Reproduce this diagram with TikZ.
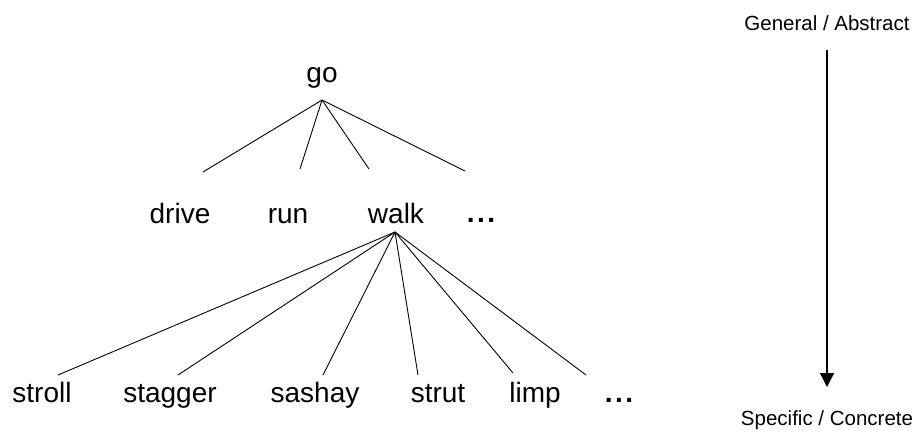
\documentclass[tikz,border=0pt]{standalone}
\usepackage{fontspec}
\setmainfont{Liberation Sans}
\usetikzlibrary{arrows.meta}
\newcommand{\spaceddots}{.\hspace{2.4pt}.\hspace{2.4pt}.}
\begin{document}
\begin{tikzpicture}[x=1pt,y=-1pt,
  word/.style={anchor=base, inner sep=0pt, font=\fontsize{28}{32}\selectfont},
  axislabel/.style={anchor=base, inner sep=0pt, font=\fontsize{20.5}{24}\selectfont},
  branch/.style={line width=0.9pt},
  axisarrow/.style={line width=1.3pt, -{Triangle[length=14pt,width=14pt]}}]
\useasboundingbox (0,0) rectangle (920,432);
% words
\node[word] (go) at (322,82) {go};
\node[word] (drive) at (180,223) {drive};
\node[word] (run) at (288,223) {run};
\node[word] (walk) at (396,223) {walk};
\node[word] (dotsA) at (481,222) {\bfseries\spaceddots};
\node[word] (stroll) at (42,402) {stroll};
\node[word] (stagger) at (170,402) {stagger};
\node[word] (sashay) at (315,402) {sashay};
\node[word] (strut) at (438,402) {strut};
\node[word] (limp) at (535,402) {limp};
\node[word] (dotsB) at (619,402) {\bfseries\spaceddots};
% hubs and branch ends
\coordinate (gohub) at (322,100);
\coordinate (walkhub) at (395,232);
\coordinate (driveend) at (203,172);
\coordinate (runend) at (300,169);
\coordinate (walkend) at (369,169);
\coordinate (dotsAend) at (465,171);
\coordinate (strollend) at (58,375);
\coordinate (staggerend) at (178,375);
\coordinate (sashayend) at (323,375);
\coordinate (strutend) at (418,375);
\coordinate (limpend) at (513,373);
\coordinate (dotsBend) at (586,375);
\foreach \e in {driveend,runend,walkend,dotsAend}
  \draw[branch] (gohub) -- (\e);
\foreach \e in {strollend,staggerend,sashayend,strutend,limpend,dotsBend}
  \draw[branch] (walkhub) -- (\e);
% axis
\node[axislabel] (general) at (827,30) {General / Abstract};
\node[axislabel] (specific) at (827,425) {Specific / Concrete};
\coordinate (axistop) at (827,50);
\coordinate (axistip) at (827,387);
\draw[axisarrow] (axistop) -- (axistip);
\end{tikzpicture}
\end{document}
